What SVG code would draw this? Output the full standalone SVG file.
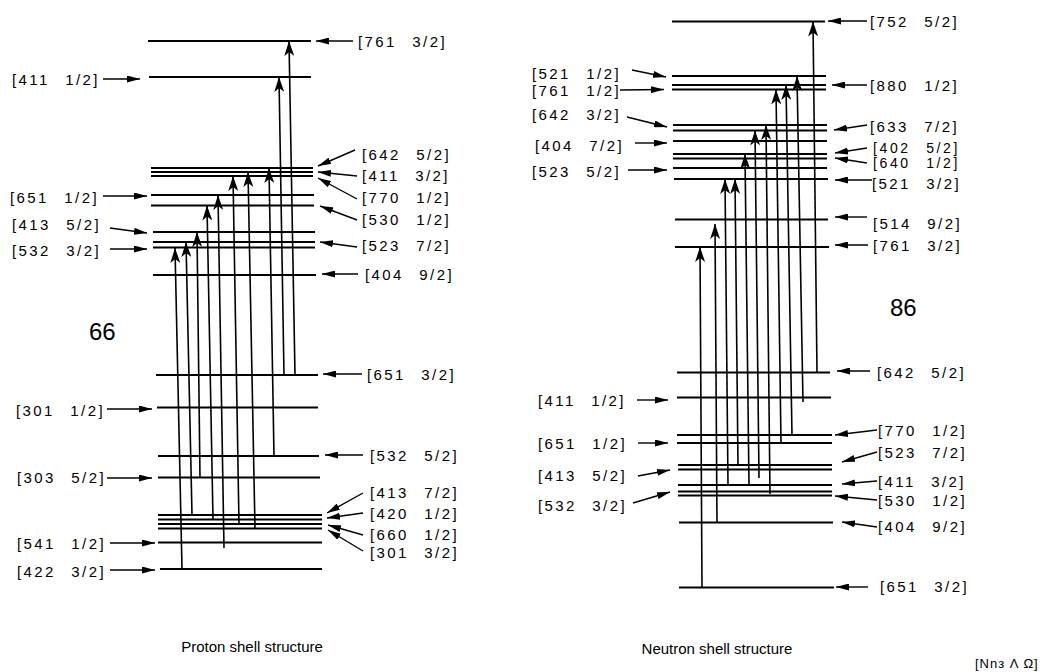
<svg xmlns="http://www.w3.org/2000/svg" width="1055" height="672" viewBox="0 0 1055 672">
<defs>
<style>
.lv{stroke:#000;stroke-width:2;fill:none}
.tr{stroke:#000;stroke-width:1.6;fill:none;marker-end:url(#ah)}
.pt{stroke:#000;stroke-width:1.4;fill:none;marker-end:url(#ph)}
.lb{font-family:"Liberation Sans",Arial,sans-serif;font-size:15px;letter-spacing:2.4px;word-spacing:9px;fill:#000}
.sm{font-size:14px;letter-spacing:2.6px}
.cap{font-family:"Liberation Sans",Arial,sans-serif;font-size:15px;fill:#000}
.big{font-family:"Liberation Sans",Arial,sans-serif;font-size:24px;fill:#000}
</style>
<marker id="ah" viewBox="0 0 15 10" refX="15" refY="5" markerWidth="15" markerHeight="10" markerUnits="userSpaceOnUse" orient="auto"><path d="M0,0 L15,5 L0,10 L4,5 Z" fill="#000"/></marker>
<marker id="ph" viewBox="0 0 13 7" refX="13" refY="3.5" markerWidth="13" markerHeight="7" markerUnits="userSpaceOnUse" orient="auto"><path d="M0,0 L13,3.5 L0,7 Z" fill="#000"/></marker>
</defs>
<rect width="1055" height="672" fill="#fff"/>

<!-- PROTON panel -->
<g id="proton">
<g id="p761_32"><line class="lv" x1="148" y1="41" x2="311" y2="41"/><line class="pt" x1="353" y1="41" x2="316" y2="41"/><text class="lb" x="358" y="47">[761 3/2]</text></g>
<g id="p411_12"><line class="lv" x1="149" y1="77" x2="311" y2="77"/><line class="pt" x1="103" y1="79" x2="140" y2="79"/><text class="lb" x="12" y="85">[411 1/2]</text></g>
<g id="p642_52"><line class="lv" x1="151" y1="168" x2="313" y2="168"/><line class="pt" x1="355" y1="150" x2="318" y2="166"/><text class="lb" x="362" y="160">[642 5/2]</text></g>
<g id="p411_32"><line class="lv" x1="151" y1="172" x2="313" y2="172"/><line class="pt" x1="357" y1="176" x2="318" y2="172"/><text class="lb" x="362" y="181">[411 3/2]</text></g>
<g id="p770_12"><line class="lv" x1="151" y1="176" x2="313" y2="176"/><line class="pt" x1="357" y1="199" x2="318" y2="178"/><text class="lb" x="362" y="203">[770 1/2]</text></g>
<g id="p651_12"><line class="lv" x1="151" y1="195" x2="314" y2="195"/><line class="pt" x1="103" y1="196" x2="147" y2="196"/><text class="lb" x="10" y="203">[651 1/2]</text></g>
<g id="p530_12"><line class="lv" x1="151" y1="205.5" x2="314" y2="205.5"/><line class="pt" x1="357" y1="220" x2="320" y2="206"/><text class="lb" x="362" y="225">[530 1/2]</text></g>
<g id="p413_52"><line class="lv" x1="153" y1="232" x2="315" y2="232"/><line class="pt" x1="110" y1="228" x2="147" y2="233"/><text class="lb" x="12" y="230">[413 5/2]</text></g>
<g id="p523_72"><line class="lv" x1="153" y1="242" x2="315" y2="242"/><line class="pt" x1="357" y1="247" x2="320" y2="242"/><text class="lb" x="362" y="251">[523 7/2]</text></g>
<g id="p532_32"><line class="lv" x1="153" y1="247.5" x2="315" y2="247.5"/><line class="pt" x1="110" y1="249" x2="147" y2="249"/><text class="lb" x="12" y="256">[532 3/2]</text></g>
<g id="p404_92"><line class="lv" x1="153" y1="275" x2="316" y2="275"/><line class="pt" x1="358" y1="274" x2="322" y2="274"/><text class="lb" x="365" y="280">[404 9/2]</text></g>
<g id="p651_32"><line class="lv" x1="156" y1="375" x2="318" y2="375"/><line class="pt" x1="362" y1="374" x2="323" y2="374"/><text class="lb" x="367" y="380">[651 3/2]</text></g>
<g id="p301_12"><line class="lv" x1="157" y1="407.5" x2="318" y2="407.5"/><line class="pt" x1="107" y1="409" x2="152" y2="409"/><text class="lb" x="16" y="416">[301 1/2]</text></g>
<g id="p532_52"><line class="lv" x1="158" y1="456" x2="319" y2="456"/><line class="pt" x1="363" y1="455" x2="325" y2="455"/><text class="lb" x="370" y="461">[532 5/2]</text></g>
<g id="p303_52"><line class="lv" x1="158" y1="477.5" x2="320" y2="477.5"/><line class="pt" x1="107" y1="478" x2="152" y2="478"/><text class="lb" x="17" y="483">[303 5/2]</text></g>
<g id="p413_72"><line class="lv" x1="158" y1="515" x2="322" y2="515"/><line class="pt" x1="363" y1="493" x2="327" y2="513"/><text class="lb" x="370" y="498">[413 7/2]</text></g>
<g id="p420_12"><line class="lv" x1="158" y1="519.5" x2="322" y2="519.5"/><line class="pt" x1="363" y1="513" x2="327" y2="518"/><text class="lb" x="370" y="519">[420 1/2]</text></g>
<g id="p660_12"><line class="lv" x1="158" y1="524" x2="322" y2="524"/><line class="pt" x1="363" y1="535" x2="328" y2="525"/><text class="lb" x="370" y="540">[660 1/2]</text></g>
<g id="p301_32"><line class="lv" x1="158" y1="528.5" x2="322" y2="528.5"/><line class="pt" x1="363" y1="551" x2="328" y2="530"/><text class="lb" x="370" y="558">[301 3/2]</text></g>
<g id="p541_12"><line class="lv" x1="158" y1="542.5" x2="322" y2="542.5"/><line class="pt" x1="110" y1="543" x2="155" y2="543"/><text class="lb" x="17" y="549">[541 1/2]</text></g>
<g id="p422_32"><line class="lv" x1="160" y1="569" x2="322" y2="569"/><line class="pt" x1="110" y1="570" x2="155" y2="570"/><text class="lb" x="17" y="577">[422 3/2]</text></g>
<text class="big" x="89" y="340">66</text>
<text class="cap" x="252" y="652" text-anchor="middle">Proton shell structure</text>
</g>

<!-- NEUTRON panel -->
<g id="neutron">
<g id="n752_52"><line class="lv" x1="672" y1="21.5" x2="825" y2="21.5"/><line class="pt" x1="867" y1="21" x2="828" y2="21"/><text class="lb" x="870" y="27">[752 5/2]</text></g>
<g id="n521_12"><line class="lv" x1="672" y1="76" x2="826" y2="76"/><line class="pt" x1="632" y1="70" x2="666" y2="77"/><text class="lb" x="532" y="79">[521 1/2]</text></g>
<g id="n880_12"><line class="lv" x1="672" y1="85" x2="826" y2="85"/><line class="pt" x1="867" y1="85" x2="832" y2="85"/><text class="lb" x="870" y="91">[880 1/2]</text></g>
<g id="n761_12"><line class="lv" x1="672" y1="89.5" x2="826" y2="89.5"/><line class="pt" x1="620" y1="90" x2="664" y2="89.5"/><text class="lb" x="532" y="96">[761 1/2]</text></g>
<g id="n642_32"><line class="lv" x1="673" y1="125" x2="827" y2="125"/><line class="pt" x1="627" y1="117" x2="667" y2="127"/><text class="lb" x="532" y="120">[642 3/2]</text></g>
<g id="n633_72"><line class="lv" x1="673" y1="130.5" x2="827" y2="130.5"/><line class="pt" x1="867" y1="125" x2="834" y2="130"/><text class="lb" x="870" y="132">[633 7/2]</text></g>
<g id="n404_72"><line class="lv" x1="673" y1="141" x2="827" y2="141"/><line class="pt" x1="635" y1="143" x2="667" y2="143"/><text class="lb" x="535" y="151">[404 7/2]</text></g>
<g id="n402_52"><line class="lv" x1="673" y1="154" x2="827" y2="154"/><line class="pt" x1="867" y1="148" x2="835" y2="153"/><text class="lb sm" x="873" y="153">[402 5/2]</text></g>
<g id="n640_12"><line class="lv" x1="673" y1="158.5" x2="827" y2="158.5"/><line class="pt" x1="867" y1="163" x2="835" y2="158"/><text class="lb sm" x="873" y="168">[640 1/2]</text></g>
<g id="n523_52"><line class="lv" x1="673" y1="168" x2="827" y2="168"/><line class="pt" x1="628" y1="170" x2="667" y2="170"/><text class="lb" x="532" y="177">[523 5/2]</text></g>
<g id="n521_32"><line class="lv" x1="674" y1="179" x2="828" y2="179"/><line class="pt" x1="872" y1="180" x2="835" y2="180"/><text class="lb" x="872" y="189">[521 3/2]</text></g>
<g id="n514_92"><line class="lv" x1="675" y1="219.5" x2="828" y2="219.5"/><line class="pt" x1="867" y1="217" x2="835" y2="217"/><text class="lb" x="873" y="229">[514 9/2]</text></g>
<g id="n761_32"><line class="lv" x1="675" y1="247" x2="829" y2="247"/><line class="pt" x1="868" y1="245" x2="835" y2="245"/><text class="lb" x="873" y="251">[761 3/2]</text></g>
<g id="n642_52"><line class="lv" x1="677" y1="372.5" x2="830" y2="372.5"/><line class="pt" x1="870" y1="371" x2="837" y2="371"/><text class="lb" x="877" y="378">[642 5/2]</text></g>
<g id="n411_12"><line class="lv" x1="677" y1="397.5" x2="831" y2="397.5"/><line class="pt" x1="637" y1="400" x2="668" y2="400"/><text class="lb" x="538" y="406">[411 1/2]</text></g>
<g id="n770_12"><line class="lv" x1="677" y1="435" x2="832" y2="435"/><line class="pt" x1="877" y1="430" x2="835" y2="435"/><text class="lb" x="878" y="436">[770 1/2]</text></g>
<g id="n651_12"><line class="lv" x1="677" y1="443" x2="832" y2="443"/><line class="pt" x1="638" y1="443" x2="668" y2="443"/><text class="lb" x="538" y="449">[651 1/2]</text></g>
<g id="n523_72"><line class="lv" x1="678" y1="465" x2="832" y2="465"/><line class="pt" x1="877" y1="452" x2="842" y2="462"/><text class="lb" x="878" y="458">[523 7/2]</text></g>
<g id="n413_52"><line class="lv" x1="678" y1="469.5" x2="832" y2="469.5"/><line class="pt" x1="638" y1="476" x2="670" y2="470"/><text class="lb" x="538" y="481">[413 5/2]</text></g>
<g id="n411_32"><line class="lv" x1="678" y1="485" x2="832" y2="485"/><line class="pt" x1="877" y1="481" x2="842" y2="484"/><text class="lb" x="878" y="487">[411 3/2]</text></g>
<g id="n532_32"><line class="lv" x1="678" y1="491.5" x2="832" y2="491.5"/><line class="pt" x1="633" y1="503" x2="670" y2="492"/><text class="lb" x="538" y="511">[532 3/2]</text></g>
<g id="n530_12"><line class="lv" x1="678" y1="495.5" x2="832" y2="495.5"/><line class="pt" x1="877" y1="500" x2="835" y2="496"/><text class="lb" x="878" y="506">[530 1/2]</text></g>
<g id="n404_92"><line class="lv" x1="679" y1="522.5" x2="833" y2="522.5"/><line class="pt" x1="877" y1="527" x2="842" y2="522"/><text class="lb" x="878" y="532">[404 9/2]</text></g>
<g id="n651_32"><line class="lv" x1="679" y1="587.5" x2="834" y2="587.5"/><line class="pt" x1="868" y1="587" x2="836" y2="587"/><text class="lb" x="880" y="592">[651 3/2]</text></g>
<text class="big" x="890" y="316">86</text>
<text class="cap" x="717" y="654" text-anchor="middle">Neutron shell structure</text>
</g>

<g id="connectors">
<line class="tr" x1="182" y1="569" x2="175" y2="248"/>
<line class="tr" x1="192" y1="515" x2="186" y2="242"/>
<line class="tr" x1="200" y1="477.5" x2="197" y2="232"/>
<line class="tr" x1="213" y1="519.5" x2="207" y2="205.5"/>
<line class="tr" x1="224" y1="548" x2="218" y2="195"/>
<line class="tr" x1="239" y1="524" x2="233" y2="176"/>
<line class="tr" x1="255" y1="528.5" x2="248" y2="172"/>
<line class="tr" x1="274" y1="456" x2="269" y2="168"/>
<line class="tr" x1="284" y1="375" x2="279" y2="77"/>
<line class="tr" x1="295" y1="375" x2="289" y2="41"/>

<line class="tr" x1="702" y1="587.5" x2="700" y2="247"/>
<line class="tr" x1="717" y1="522.5" x2="715" y2="224"/>
<line class="tr" x1="728" y1="485" x2="725" y2="179"/>
<line class="tr" x1="738" y1="465" x2="735" y2="179"/>
<line class="tr" x1="749" y1="485" x2="745" y2="154"/>
<line class="tr" x1="759" y1="478" x2="755" y2="130.5"/>
<line class="tr" x1="770" y1="494" x2="766" y2="125"/>
<line class="tr" x1="781" y1="443" x2="776" y2="89.5"/>
<line class="tr" x1="792" y1="435" x2="786" y2="85"/>
<line class="tr" x1="803" y1="402" x2="797" y2="76"/>
<line class="tr" x1="817" y1="372.5" x2="813" y2="21.5"/>
</g>

<text class="cap" x="975" y="668" style="font-size:13px;letter-spacing:1px">[Nnз Λ Ω]</text>
</svg>
